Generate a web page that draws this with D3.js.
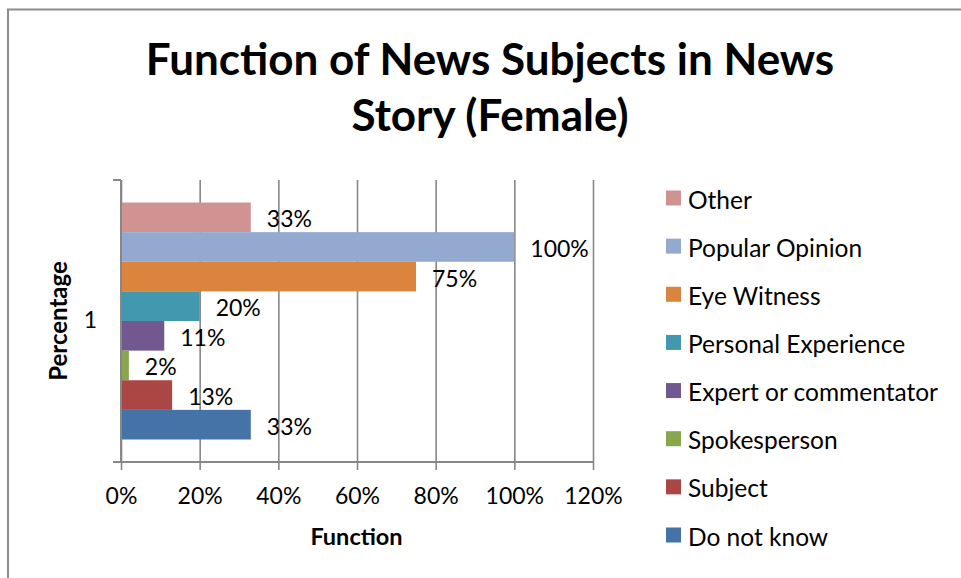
<!DOCTYPE html>
<html>
<head>
<meta charset="utf-8">
<script src="https://cdn.jsdelivr.net/npm/d3@7"></script>
<style>
  html, body { margin: 0; padding: 0; background: #fff; }
  svg { display: block; }
  text { font-family: Lato, "Open Sans", sans-serif; fill: #000; }
</style>
</head>
<body>
<svg id="chart" width="961" height="578"></svg>
<script>
// Series drawn top to bottom inside the single category
const seriesNames = ["Other", "Popular Opinion", "Eye Witness", "Personal Experience",
                     "Expert or commentator", "Spokesperson", "Subject", "Do not know"];
const seriesValues = [0.33, 1.00, 0.75, 0.20, 0.11, 0.02, 0.13, 0.33];
const seriesColors = ["#D19392", "#93A9CF", "#DB843D", "#4198AF",
                      "#71588F", "#89A54E", "#AA4643", "#4572A7"];
const categories = ["1"];
const xTicks = [0, 0.2, 0.4, 0.6, 0.8, 1.0, 1.2];
const titleLines = ["Function of News Subjects in News", "Story (Female)"];

const svg = d3.select("#chart");
const gridColor = "#878787";

// chart frame
svg.append("rect")
  .attr("x", 8).attr("y", 9.5).attr("width", 1000).attr("height", 1000)
  .attr("fill", "none").attr("stroke", "#8c8c8c").attr("stroke-width", 2);

// plot area
const plot = { left: 121, right: 593, top: 180, bottom: 462 };

const x = d3.scaleLinear().domain([0, 1.2]).range([plot.left, plot.right]);
const y = d3.scaleBand().domain(categories).range([plot.top, plot.bottom]);
const ySeries = d3.scaleBand().domain(seriesNames)
  .range([0, y.bandwidth()]).paddingInner(0).paddingOuter(0.76);

// vertical gridlines
svg.append("g")
  .attr("transform", `translate(0,${plot.bottom})`)
  .call(d3.axisBottom(x).tickValues(xTicks).tickSize(-(plot.bottom - plot.top)).tickFormat(""))
  .call(g => g.select(".domain").remove())
  .call(g => g.selectAll("line").attr("stroke", gridColor).attr("stroke-width", 1.6));

// bars
const bars = svg.append("g");
categories.forEach(cat => {
  seriesNames.forEach((name, i) => {
    bars.append("rect")
      .attr("x", x(0))
      .attr("y", y(cat) + ySeries(name))
      .attr("width", x(seriesValues[i]) - x(0))
      .attr("height", ySeries.bandwidth())
      .attr("fill", seriesColors[i]);
  });
});

// x axis
const xAxis = svg.append("g")
  .attr("transform", `translate(0,${plot.bottom})`)
  .call(d3.axisBottom(x).tickValues(xTicks).tickSize(8).tickPadding(18)
        .tickFormat(d3.format(".0%")));
xAxis.select(".domain").attr("stroke", gridColor).attr("stroke-width", 2)
  .attr("d", `M${plot.left - 8},0H${plot.right}`);
xAxis.selectAll("line").attr("stroke", gridColor).attr("stroke-width", 1.6);
xAxis.selectAll("text").style("font-family", "Lato, sans-serif")
  .attr("font-size", 23).attr("fill", "#000");

// y axis: category label centred, tick marks at the category edges
const yAxis = svg.append("g")
  .attr("transform", `translate(${plot.left},0)`)
  .call(d3.axisLeft(y).tickSize(0).tickPadding(24));
yAxis.select(".domain").attr("stroke", gridColor).attr("stroke-width", 2)
  .attr("d", `M0,${plot.top}V${plot.bottom}`);
yAxis.selectAll("text").style("font-family", "Lato, sans-serif")
  .attr("font-size", 23).attr("fill", "#000");
yAxis.selectAll(".edge").data(y.range()).enter().append("line")
  .attr("x1", -8).attr("x2", 0).attr("y1", d => d).attr("y2", d => d)
  .attr("stroke", gridColor).attr("stroke-width", 2);

// data labels
const fmt = d3.format(".0%");
categories.forEach(cat => {
  seriesNames.forEach((name, i) => {
    svg.append("text")
      .attr("x", x(seriesValues[i]) + 16)
      .attr("y", y(cat) + ySeries(name) + ySeries.bandwidth() / 2 + 1)
      .attr("dominant-baseline", "central")
      .attr("font-size", 23)
      .text(fmt(seriesValues[i]));
  });
});

// title
svg.append("text")
  .attr("x", 490).attr("y", 75)
  .attr("text-anchor", "middle")
  .attr("font-size", 44).attr("font-weight", "bold")
  .selectAll("tspan").data(titleLines).enter().append("tspan")
  .attr("x", 490).attr("dy", (d, i) => i === 0 ? 0 : 56)
  .text(d => d);

// axis titles
svg.append("text")
  .attr("x", (plot.left + plot.right) / 2 - 0.5).attr("y", 545)
  .attr("text-anchor", "middle")
  .attr("font-size", 23.5).attr("font-weight", "bold")
  .text("Function");

svg.append("text")
  .attr("transform", `translate(67,${(plot.top + plot.bottom) / 2}) rotate(-90)`)
  .attr("text-anchor", "middle")
  .attr("font-size", 24).attr("font-weight", "bold")
  .text("Percentage");

// legend
const legend = svg.append("g");
const legendY = d3.scalePoint().domain(seriesNames).range([198, 535]);
seriesNames.forEach((name, i) => {
  legend.append("rect")
    .attr("x", 666).attr("y", legendY(name) - 7.5)
    .attr("width", 15).attr("height", 15)
    .attr("fill", seriesColors[i]);
  legend.append("text")
    .attr("x", 688).attr("y", legendY(name) + 1)
    .attr("dominant-baseline", "central")
    .attr("font-size", 24.5)
    .text(name);
});
</script>
</body>
</html>
